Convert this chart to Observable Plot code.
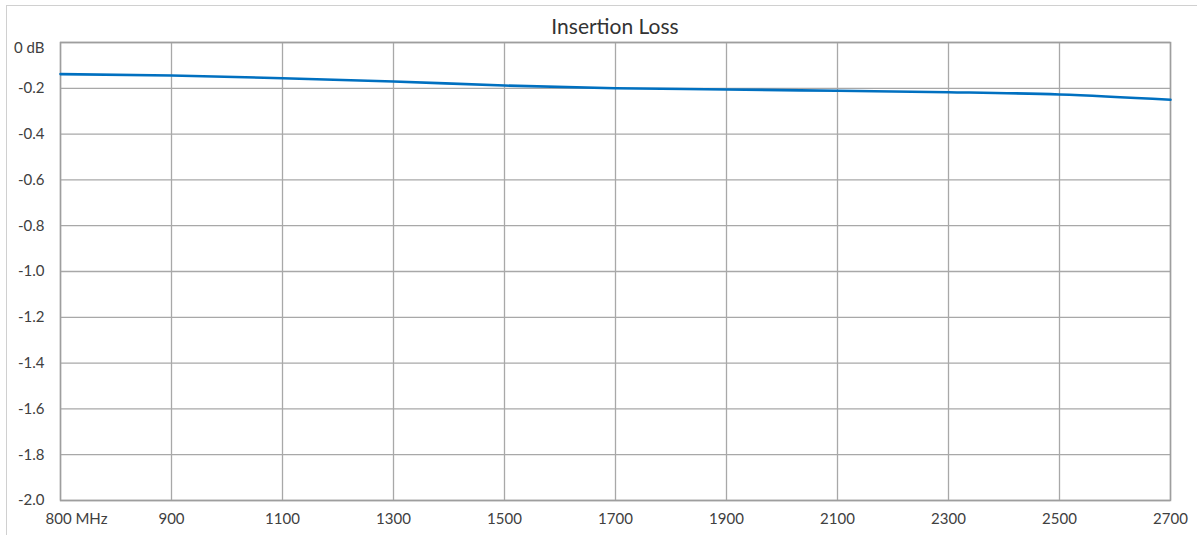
<!DOCTYPE html>
<html>
<head>
<meta charset="utf-8">
<script src="https://cdn.jsdelivr.net/npm/d3@7"></script>
<script src="https://cdn.jsdelivr.net/npm/@observablehq/plot@0.6"></script>
<style>
  html, body { margin: 0; padding: 0; background: #fff; }
  #wrap { position: relative; width: 1197px; height: 535px; overflow: hidden; font-family: Lato, "Open Sans", sans-serif; }
  #border { position: absolute; left: 6px; top: 5px; right: 0; bottom: -10px; border-top: 1.5px solid #d0d0d0; border-left: 1.5px solid #d0d0d0; }
  #title { position: absolute; top: 14px; left: 60px; width: 1110px; text-align: center; font-size: 21px; color: #333; line-height: 24px; }
  #chart { position: absolute; left: 0; top: 0; }
</style>
</head>
<body>
<div id="wrap">
  <div id="border"></div>
  <div id="title">Insertion Loss</div>
  <div id="chart"></div>
</div>
<script>
const freqs = ["800", "900", "1100", "1300", "1500", "1700", "1900", "2100", "2300", "2500", "2700"];
const loss = [-0.138, -0.144, -0.156, -0.170, -0.188, -0.200, -0.205, -0.211, -0.217, -0.227, -0.250];
const yTicks = [0, -0.2, -0.4, -0.6, -0.8, -1.0, -1.2, -1.4, -1.6, -1.8, -2.0];

const data = freqs.map((f, i) => ({freq: f, loss: loss[i]}));
const gridColor = "#a8a8a8";
const textColor = "#404040";

const chart = Plot.plot({
  width: 1197,
  height: 535,
  marginLeft: 60,
  marginRight: 27,
  marginTop: 42,
  marginBottom: 35,
  style: {fontFamily: "Lato, 'Open Sans', sans-serif", fontSize: "15px", color: textColor, background: "transparent"},
  x: {type: "point", domain: freqs, padding: 0, label: null},
  y: {domain: [-2, 0], label: null},
  marks: [
    Plot.gridX(freqs, {stroke: gridColor, strokeOpacity: 1, strokeWidth: 1.3}),
    Plot.gridY(yTicks, {stroke: gridColor, strokeOpacity: 1, strokeWidth: 1.3}),
    Plot.frame({stroke: "#9e9e9e", strokeWidth: 1.5}),
    Plot.axisY(yTicks.filter(d => d !== 0), {label: null, tickSize: 0, tickPadding: 16, tickFormat: d => d.toFixed(1), fill: textColor, fontSize: 15}),
    Plot.axisY([0], {label: null, tickSize: 0, tickPadding: 16, tickFormat: () => "0 dB", dy: 6, fill: textColor, fontSize: 15}),
    Plot.axisX(freqs.slice(1), {label: null, tickSize: 0, tickPadding: 13, fill: textColor, fontSize: 15}),
    Plot.axisX([freqs[0]], {label: null, tickSize: 0, tickPadding: 13, tickFormat: d => d + " MHz", textAnchor: "start", dx: -15, fill: textColor, fontSize: 15}),
    Plot.line(data, {x: "freq", y: "loss", stroke: "#0070C0", strokeWidth: 2.6, curve: "monotone-x"})
  ]
});
document.getElementById("chart").appendChild(chart);
</script>
</body>
</html>
